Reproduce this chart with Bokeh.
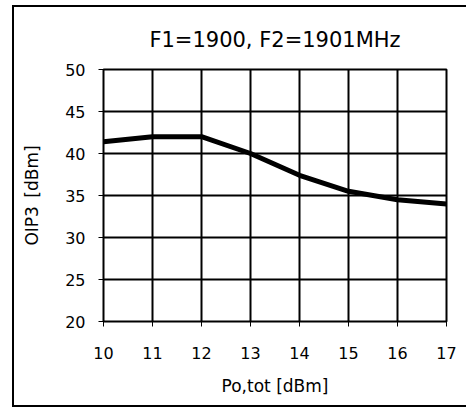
from bokeh.plotting import figure
from bokeh.models import FixedTicker
from bokeh.embed import file_html
from bokeh.resources import INLINE

power = [10, 11, 12, 13, 14, 15, 16, 17]
oip3 = [41.4, 42.0, 42.0, 40.0, 37.4, 35.5, 34.5, 34.0]
x_ticks = [10, 11, 12, 13, 14, 15, 16, 17]
y_ticks = [20, 25, 30, 35, 40, 45, 50]
title_text = "F1=1900, F2=1901MHz"
x_label = "Po,tot [dBm]"
y_label = "OIP3\u2002[dBm]"

FONT = "DejaVu Sans"

p = figure(width=454, height=402, x_range=(10, 17), y_range=(20, 50),
           output_backend="svg", toolbar_location=None,
           min_border_left=89, min_border_right=22,
           min_border_top=62, min_border_bottom=88)

p.styles = {"border-left": "2px solid black", "border-top": "2px solid black",
            "border-bottom": "2px solid black", "margin-left": "12px",
            "margin-top": "5px"}

p.title.text = title_text
p.title.align = "center"
p.title.text_font = FONT
p.title.text_font_size = "21px"
p.title.text_font_style = "normal"
p.title.text_color = "black"
p.title.standoff = 35

p.line(power, oip3, line_width=5, line_color="black", line_join="round", line_cap="round")

for ax in (p.xaxis[0], p.yaxis[0]):
    ax.major_label_text_font = FONT
    ax.major_label_text_font_size = "16px"
    ax.major_label_text_color = "black"
    ax.axis_label_text_font = FONT
    ax.axis_label_text_font_size = "17px"
    ax.axis_label_text_font_style = "normal"
    ax.axis_label_text_color = "black"
    ax.minor_tick_line_color = None
    ax.major_tick_in = 0
    ax.major_tick_out = 5
    ax.major_tick_line_color = "black"
    ax.major_tick_line_width = 1
    ax.axis_line_color = "black"
    ax.axis_line_width = 1

p.xaxis.ticker = FixedTicker(ticks=x_ticks)
p.yaxis.ticker = FixedTicker(ticks=y_ticks)
p.xaxis.axis_label = x_label
p.yaxis.axis_label = y_label
p.xaxis.major_label_standoff = 20
p.yaxis.major_label_standoff = 13
p.xaxis.axis_label_standoff = 14
p.yaxis.axis_label_standoff = 20

p.xgrid.ticker = FixedTicker(ticks=x_ticks)
p.ygrid.ticker = FixedTicker(ticks=y_ticks)
p.grid.grid_line_color = "black"
p.grid.grid_line_width = 2
p.grid.grid_line_alpha = 1.0

p.outline_line_color = "black"
p.outline_line_width = 2
p.outline_line_alpha = 1.0
p.background_fill_color = "white"
p.border_fill_color = "white"

open("out.html", "w").write(file_html(p, INLINE))
